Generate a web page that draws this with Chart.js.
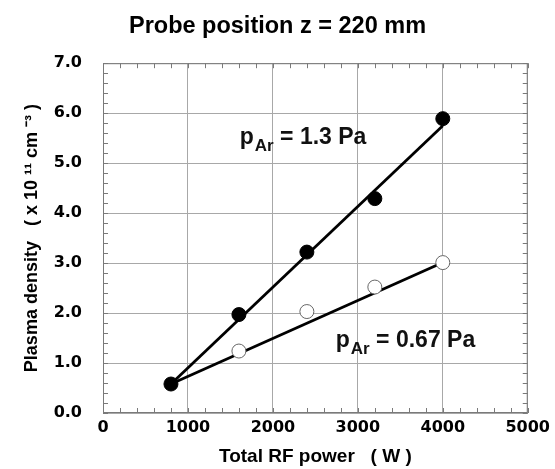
<!DOCTYPE html>
<html>
<head>
<meta charset="utf-8">
<script src="https://cdn.jsdelivr.net/npm/chart.js@4.4.1/dist/chart.umd.min.js"></script>
<style>
  html, body { margin: 0; padding: 0; background: #fff; }
  #wrap { width: 555px; height: 469px; }
</style>
</head>
<body>
<div id="wrap"><canvas id="plasma" width="555" height="469"></canvas></div>
<script>
// measured points, 1.3 Pa (filled) and 0.67 Pa (open)
var power13 = [800, 1600, 2400, 3200, 4000];
var dens13 = [0.58, 1.97, 3.22, 4.29, 5.89];
var power067 = [1600, 2400, 3200, 4000];
var dens067 = [1.24, 2.03, 2.52, 3.01];
// straight fit lines drawn through the points
var fitPower = [800, 4000];
var fit13 = [0.58, 5.75];
var fit067 = [0.58, 3.01];
// axis ticks
var xTicks = [0, 1000, 2000, 3000, 4000, 5000];
var yTicks = [0, 1, 2, 3, 4, 5, 6, 7];

function pts(xs, ys) {
  var out = [];
  for (var i = 0; i < xs.length; i++) out.push({x: xs[i], y: ys[i]});
  return out;
}

var tickFont = {family: 'DejaVu Sans', weight: 'bold', size: 16};

// box round the plot with small inward ticks on all four sides
var frameTicks = {
  id: 'frameTicks',
  beforeDatasetsDraw: function(chart) {
    var ctx = chart.ctx, a = chart.chartArea, x = chart.scales.x, y = chart.scales.y;
    ctx.save();
    ctx.strokeStyle = '#7a7a7a';
    ctx.lineWidth = 1;
    ctx.beginPath();
    for (var v = 0; v <= 5000; v += 200) {
      var px = Math.round(x.getPixelForValue(v)) + 0.5;
      ctx.moveTo(px, a.bottom); ctx.lineTo(px, a.bottom - 5);
      ctx.moveTo(px, a.top); ctx.lineTo(px, a.top + 5);
    }
    for (var w = 0; w <= 7.001; w += 0.2) {
      var py = Math.round(y.getPixelForValue(w)) + 0.5;
      ctx.moveTo(a.left, py); ctx.lineTo(a.left + 5, py);
      ctx.moveTo(a.right, py); ctx.lineTo(a.right - 5, py);
    }
    ctx.stroke();
    ctx.strokeRect(a.left + 0.5, a.top + 0.5, a.width - 1, a.height - 1);
    ctx.restore();
  }
};

// "p_Ar = ..." labels inside the plot
var notes = [
  {x: 1610, y: 5.39, value: ' = 1.3 Pa'},
  {x: 2740, y: 1.33, value: ' = 0.67 Pa'}
];
var pressureLabels = {
  id: 'pressureLabels',
  afterDatasetsDraw: function(chart) {
    var ctx = chart.ctx, x = chart.scales.x, y = chart.scales.y;
    ctx.save();
    ctx.fillStyle = '#111';
    ctx.textBaseline = 'alphabetic';
    ctx.textAlign = 'left';
    notes.forEach(function(n) {
      var px = x.getPixelForValue(n.x), py = y.getPixelForValue(n.y);
      ctx.font = 'bold 23px "Liberation Sans"';
      ctx.fillText('p', px, py);
      px += ctx.measureText('p').width + 1;
      ctx.font = 'bold 17px "Liberation Sans"';
      ctx.fillText('Ar', px, py + 7);
      px += ctx.measureText('Ar').width;
      ctx.font = 'bold 23px "Liberation Sans"';
      ctx.fillText(n.value, px, py);
    });
    ctx.restore();
  }
};

var ctx = document.getElementById('plasma');
var chart = new Chart(ctx, {
  type: 'scatter',
  data: {
    datasets: [
      {
        label: '1.3 Pa',
        data: pts(power13, dens13),
        backgroundColor: '#000',
        borderColor: '#000',
        borderWidth: 1,
        pointRadius: 7,
        showLine: false
      },
      {
        label: '0.67 Pa',
        data: pts(power067, dens067),
        backgroundColor: '#fff',
        borderColor: '#666',
        borderWidth: 1,
        pointRadius: 7,
        showLine: false
      },
      {
        label: 'fit 1.3 Pa',
        data: pts(fitPower, fit13),
        borderColor: '#000',
        borderWidth: 2.8,
        pointRadius: 0,
        showLine: true
      },
      {
        label: 'fit 0.67 Pa',
        data: pts(fitPower, fit067),
        borderColor: '#000',
        borderWidth: 2.8,
        pointRadius: 0,
        showLine: true
      }
    ]
  },
  options: {
    responsive: false,
    animation: false,
    layout: {padding: 0},
    plugins: {
      legend: {display: false},
      tooltip: {enabled: false},
      title: {
        display: true,
        text: 'Probe position z = 220 mm',
        color: '#000',
        font: {family: 'Liberation Sans', weight: 'bold', size: 23.5},
        padding: {top: 12, bottom: 23}
      }
    },
    scales: {
      x: {
        type: 'linear',
        min: 0,
        max: 5000,
        afterBuildTicks: function(s) { s.ticks = xTicks.map(function(v) { return {value: v}; }); },
        afterFit: function(s) { s.height = 56; },
        ticks: {
          color: '#000',
          font: tickFont,
          padding: 5,
          maxRotation: 0,
          callback: function(v) { return String(v); }
        },
        grid: {color: '#a8a8a8', lineWidth: 1, drawTicks: false},
        border: {display: false},
        title: {
          display: true,
          text: 'Total RF power   ( W )',
          color: '#000',
          font: {family: 'Liberation Sans', weight: 'bold', size: 19},
          padding: {top: 2, bottom: 1}
        }
      },
      y: {
        type: 'linear',
        min: 0,
        max: 7,
        afterBuildTicks: function(s) { s.ticks = yTicks.map(function(v) { return {value: v}; }); },
        afterFit: function(s) { s.width = 103; },
        ticks: {
          color: '#000',
          font: tickFont,
          padding: 21,
          callback: function(v) { return Number(v).toFixed(1); }
        },
        grid: {color: '#a8a8a8', lineWidth: 1, drawTicks: false},
        border: {display: false},
        title: {
          display: true,
          text: 'Plasma density   ( x 10 \u00b9\u00b9 cm \u207b\u00b3 )',
          color: '#000',
          font: {family: 'Liberation Sans', weight: 'bold', size: 18},
          padding: {top: 21, bottom: 0}
        }
      },
      // empty right-hand axis, only keeps a margin on the right
      yRight: {
        type: 'linear',
        position: 'right',
        min: 0,
        max: 7,
        afterFit: function(s) { s.width = 27; },
        ticks: {display: false},
        grid: {display: false},
        border: {display: false}
      }
    }
  },
  plugins: [frameTicks, pressureLabels]
});
</script>
</body>
</html>
